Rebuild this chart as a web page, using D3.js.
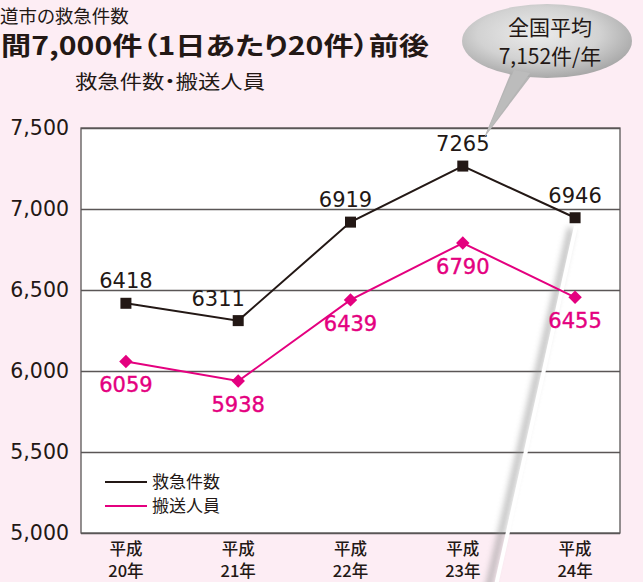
<!DOCTYPE html>
<html><head><meta charset="utf-8">
<script src="https://cdn.jsdelivr.net/npm/d3@7"></script>
<style>
html,body{margin:0;padding:0;background:#fdedf4;}
svg{display:block;}
text{font-family:"Noto Sans CJK JP","Noto Sans",sans-serif;font-feature-settings:"palt";}
.num{font-family:"DejaVu Sans","Noto Sans CJK JP",sans-serif;}
</style></head>
<body>
<svg id="chart" width="643" height="582"></svg>
<script>
const categories = ["平成\n20年","平成\n21年","平成\n22年","平成\n23年","平成\n24年"];
const emergencyCounts = [6418, 6311, 6919, 7265, 6946];
const transported = [6059, 5938, 6439, 6790, 6455];
const yTicks = [5000, 5500, 6000, 6500, 7000, 7500];
const seriesNames = ["救急件数", "搬送人員"];
const titleLines = ["道市の救急件数", "間7,000件（1日あたり20件）前後", "救急件数・搬送人員"];
const bubbleLines = ["全国平均", "7,152件/年"];

const BLACK = "#231815", PINK = "#e4007f", GRID = "#5a5656";
const svg = d3.select("#chart");
const m = {left:81, right:620, top:128, bottom:533};

const defs = svg.append("defs");
const rg = defs.append("radialGradient").attr("id","bub").attr("cx","45%").attr("cy","40%").attr("r","60%");
rg.append("stop").attr("offset","0%").attr("stop-color","#ececec");
rg.append("stop").attr("offset","60%").attr("stop-color","#d2d2d2");
rg.append("stop").attr("offset","100%").attr("stop-color","#a9a9a9");
const blur = defs.append("filter").attr("id","blur").attr("x","-50%").attr("y","-10%").attr("width","200%").attr("height","120%");
blur.append("feGaussianBlur").attr("stdDeviation",3);

// Titles
svg.append("text").attr("x",0).attr("y",23).attr("font-size",18.5).attr("fill",BLACK).text(titleLines[0]);
svg.append("text").attr("x",1).attr("y",55).attr("font-size",25).attr("font-weight","bold").attr("fill",BLACK)
  .attr("textLength",428).attr("lengthAdjust","spacingAndGlyphs").text(titleLines[1]);
svg.append("text").attr("x",75).attr("y",89).attr("font-size",19).attr("fill",BLACK)
  .attr("textLength",190).attr("lengthAdjust","spacingAndGlyphs").text(titleLines[2]);

// Plot background
svg.append("rect").attr("x",m.left).attr("y",m.top).attr("width",m.right-m.left).attr("height",m.bottom-m.top)
  .attr("fill","#fff");

const x = d3.scalePoint().domain(categories).range([m.left, m.right]).padding(0.4);
const y = d3.scaleLinear().domain([5000,7500]).range([m.bottom, m.top]);

// grid
svg.append("g").attr("transform",`translate(${m.left},0)`)
  .call(d3.axisLeft(y).tickValues(yTicks).tickSize(-(m.right-m.left)).tickFormat(""))
  .call(g=>g.select(".domain").remove())
  .call(g=>g.selectAll(".tick line").attr("stroke",GRID).attr("stroke-width",1.3));

// border
svg.append("rect").attr("x",m.left).attr("y",m.top).attr("width",m.right-m.left).attr("height",m.bottom-m.top)
  .attr("fill","none").attr("stroke",GRID).attr("stroke-width",1.3);

// y labels
svg.append("g").attr("transform",`translate(${m.left},0)`)
  .call(d3.axisLeft(y).tickValues(yTicks).tickSize(0).tickPadding(12).tickFormat(d3.format(",")))
  .call(g=>g.select(".domain").remove())
  .call(g=>g.selectAll("text").attr("class","num").attr("font-size",20.5).attr("fill",BLACK)
    .attr("font-family",null));

// x labels
const xl = svg.append("g").selectAll("text").data(categories).join("text")
  .attr("x",d=>x(d)).attr("text-anchor","middle").attr("font-size",16.5).attr("fill",BLACK).attr("font-weight","500");
xl.each(function(d){
  const parts = d.split("\n");
  d3.select(this).selectAll("tspan").data(parts).join("tspan")
    .attr("x",x(d)).attr("y",(p,i)=>555+i*22).text(p=>p);
});

// decorative stripe
const stripe = svg.append("g");
stripe.append("line").attr("x1",575).attr("y1",228).attr("x2",492).attr("y2",590)
  .attr("stroke","#8a8a8a").attr("stroke-width",6).attr("filter","url(#blur)").attr("opacity",0.6)
  .attr("transform","translate(-4,0)");
stripe.append("line").attr("x1",576).attr("y1",226).attr("x2",495).attr("y2",590)
  .attr("stroke","#fff").attr("stroke-width",4);

// lines
const line = d3.line().x((d,i)=>x(categories[i])).y(d=>y(d));
svg.append("path").datum(emergencyCounts).attr("d",line).attr("fill","none").attr("stroke",BLACK).attr("stroke-width",2);
svg.append("path").datum(transported).attr("d",line).attr("fill","none").attr("stroke",PINK).attr("stroke-width",2);

// markers
svg.append("g").selectAll("rect").data(emergencyCounts).join("rect")
  .attr("x",(d,i)=>x(categories[i])-5.5).attr("y",d=>y(d)-5.5).attr("width",11).attr("height",11).attr("fill",BLACK);
svg.append("g").selectAll("path").data(transported).join("path")
  .attr("d",d3.symbol().type(d3.symbolSquare).size(90))
  .attr("transform",(d,i)=>`translate(${x(categories[i])},${y(d)}) rotate(45)`).attr("fill",PINK);

// value labels
const blackDx = [0,-20,-5,0,0];
svg.append("g").selectAll("text").data(emergencyCounts).join("text").attr("class","num")
  .attr("x",(d,i)=>x(categories[i])+blackDx[i]).attr("y",d=>y(d)-15).attr("text-anchor","middle")
  .attr("font-size",21).attr("fill",BLACK).text(d=>d);
svg.append("g").selectAll("text").data(transported).join("text").attr("class","num")
  .attr("x",(d,i)=>x(categories[i])).attr("y",d=>y(d)+31).attr("text-anchor","middle")
  .attr("font-size",21).attr("fill",PINK).attr("stroke",PINK).attr("stroke-width",0.4).text(d=>d);

// legend
const lg = svg.append("g");
seriesNames.forEach((n,i)=>{
  const yy = 482 + i*24;
  lg.append("line").attr("x1",105).attr("x2",147).attr("y1",yy).attr("y2",yy)
    .attr("stroke",i? PINK:BLACK).attr("stroke-width",2);
  lg.append("text").attr("x",152).attr("y",yy+6).attr("font-size",17).attr("fill",BLACK).text(n);
});

// bubble
const bub = svg.append("g");
bub.append("path").attr("d","M512,70 L484,138 L534,72 Z").attr("fill","#b5b5b5");
bub.append("ellipse").attr("cx",547).attr("cy",41).attr("rx",85).attr("ry",37).attr("fill","url(#bub)");
bub.append("path").attr("d","M514,70 L485,136 L530,73 Z").attr("fill","#bcbcbc");
bub.selectAll("text").data(bubbleLines).join("text")
  .attr("x",550).attr("y",(d,i)=>35+i*29).attr("text-anchor","middle").attr("font-size",21).attr("fill",BLACK).text(d=>d);
</script>
</body></html>
